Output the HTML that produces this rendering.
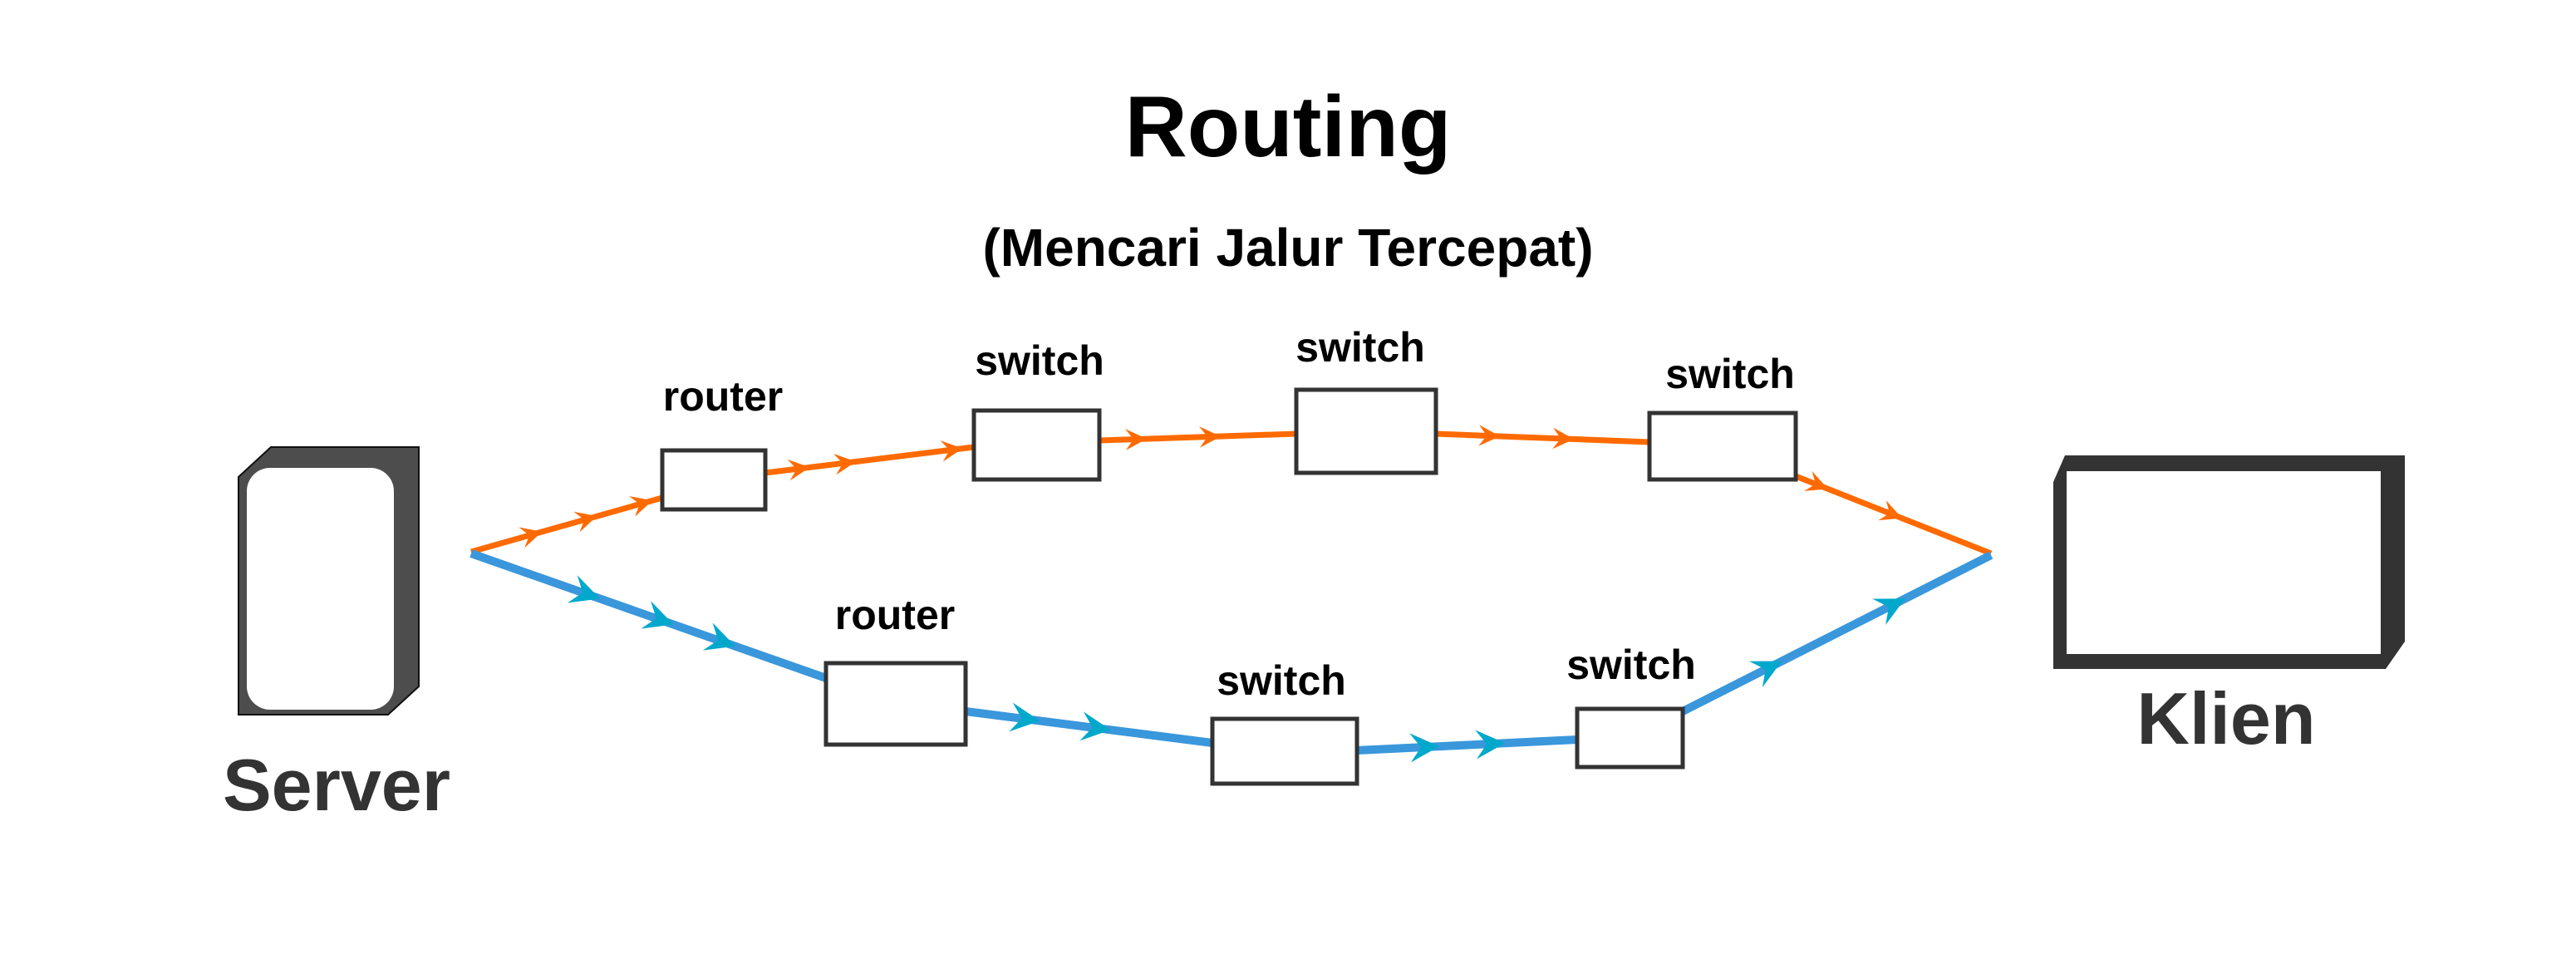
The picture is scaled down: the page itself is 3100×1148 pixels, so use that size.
<!DOCTYPE html>
<html><head><meta charset="utf-8"><style>
html,body{margin:0;padding:0;background:#fff;}
svg{display:block;}
text{font-family:"Liberation Sans",sans-serif;font-weight:bold;}
</style></head><body>
<svg id="s" width="3100" height="1148" viewBox="0 0 3100 1148" xmlns="http://www.w3.org/2000/svg">
<rect width="3100" height="1148" fill="#fff"/>
<text x="1550" y="188" font-size="104" text-anchor="middle" fill="#000">Routing</text>
<text x="1550" y="320" font-size="64" text-anchor="middle" fill="#000">(Mencari Jalur Tercepat)</text>
<!-- server -->
<path d="M326 538 L504 538 L504 826 L467 860 L287 860 L287 574 Z" fill="#4d4d4d" stroke="#111" stroke-width="2"/>
<rect x="297" y="563" width="177" height="291" rx="28" fill="#fff"/>
<text x="405" y="975" font-size="88" text-anchor="middle" fill="#333">Server</text>
<!-- klien -->
<path d="M2485 548 L2894 548 L2894 772 L2871 805 L2471 805 L2471 580 Z" fill="#333"/>
<rect x="2487" y="567" width="378" height="220" fill="#fff"/>
<text x="2679" y="895" font-size="88" text-anchor="middle" fill="#333">Klien</text>
<g fill="none" stroke-linejoin="round">
<polyline id="o" points="567,664 797,599 921,569 1172,538 1323,530 1560,522 1728,522 1985,532 2161,573 2396,666" stroke="#ff6a00" stroke-width="7"/>
<polyline id="b" points="567,666 994,816 1162,856 1459,894 1633,903 1898,890 2025,856 2396,668" stroke="#3a97db" stroke-width="10"/>
</g>
<g fill="#fff" stroke="#333" stroke-width="5">
<rect x="797" y="542" width="124" height="71"/>
<rect x="1172" y="494" width="151" height="83"/>
<rect x="1560" y="469" width="168" height="100"/>
<rect x="1985" y="497" width="176" height="80"/>
<rect x="994" y="798" width="168" height="98"/>
<rect x="1459" y="865" width="174" height="78"/>
<rect x="1898" y="853" width="127" height="70"/>
</g>
<g font-size="50" text-anchor="middle" fill="#000">
<text x="870" y="494">router</text>
<text x="1251" y="451">switch</text>
<text x="1637" y="435">switch</text>
<text x="2082" y="467">switch</text>
<text x="1077" y="757">router</text>
<text x="1542" y="836">switch</text>
<text x="1963" y="817">switch</text>
</g>
<g id="arrows"></g>
</svg>
<script>
(function(){
var g=document.getElementById('arrows');
function segs(pts){var a=pts.trim().split(/\s+/).map(function(p){return p.split(',').map(Number)});return a;}
var O=segs(document.getElementById('o').getAttribute('points'));
var B=segs(document.getElementById('b').getAttribute('points'));
function place(list,pts,color,sz){
 list.forEach(function(p){
  var x=p[0]*1.977,y=p[1]*1.977,best=1e9,dx=1,dy=0,px=x,py=y;
  for(var i=0;i<pts.length-1;i++){
   var a=pts[i],b=pts[i+1],vx=b[0]-a[0],vy=b[1]-a[1],L=vx*vx+vy*vy;
   var t=((x-a[0])*vx+(y-a[1])*vy)/L;t=Math.max(0,Math.min(1,t));
   var qx=a[0]+t*vx,qy=a[1]+t*vy,d=(qx-x)*(qx-x)+(qy-y)*(qy-y);
   if(d<best){best=d;px=qx;py=qy;var l=Math.sqrt(L);dx=vx/l;dy=vy/l;}
  }
  var ang=Math.atan2(dy,dx)*180/Math.PI;
  var e=document.createElementNS('http://www.w3.org/2000/svg','path');
  e.setAttribute('d','M'+sz+' 0 L'+(-sz*0.6)+' '+(-sz*0.8)+' L0 0 L'+(-sz*0.6)+' '+(sz*0.8)+' Z');
  e.setAttribute('fill',color);
  e.setAttribute('transform','translate('+px+' '+py+') rotate('+ang+')');
  g.appendChild(e);
 });
}
place([[322,325],[355,314],[388,302],[485,286],[513,282],[578,274],[690,268],[735,266],[905,265],[950,268],[1105,295],[1150,313]],O,'#ff6a00',16);
place([[355,360],[400,375],[437,390],[622,437],[665,443],[865,455],[905,453],[1075,408],[1150,370]],B,'#00a8cc',22);
})();
</script>
</body></html>
